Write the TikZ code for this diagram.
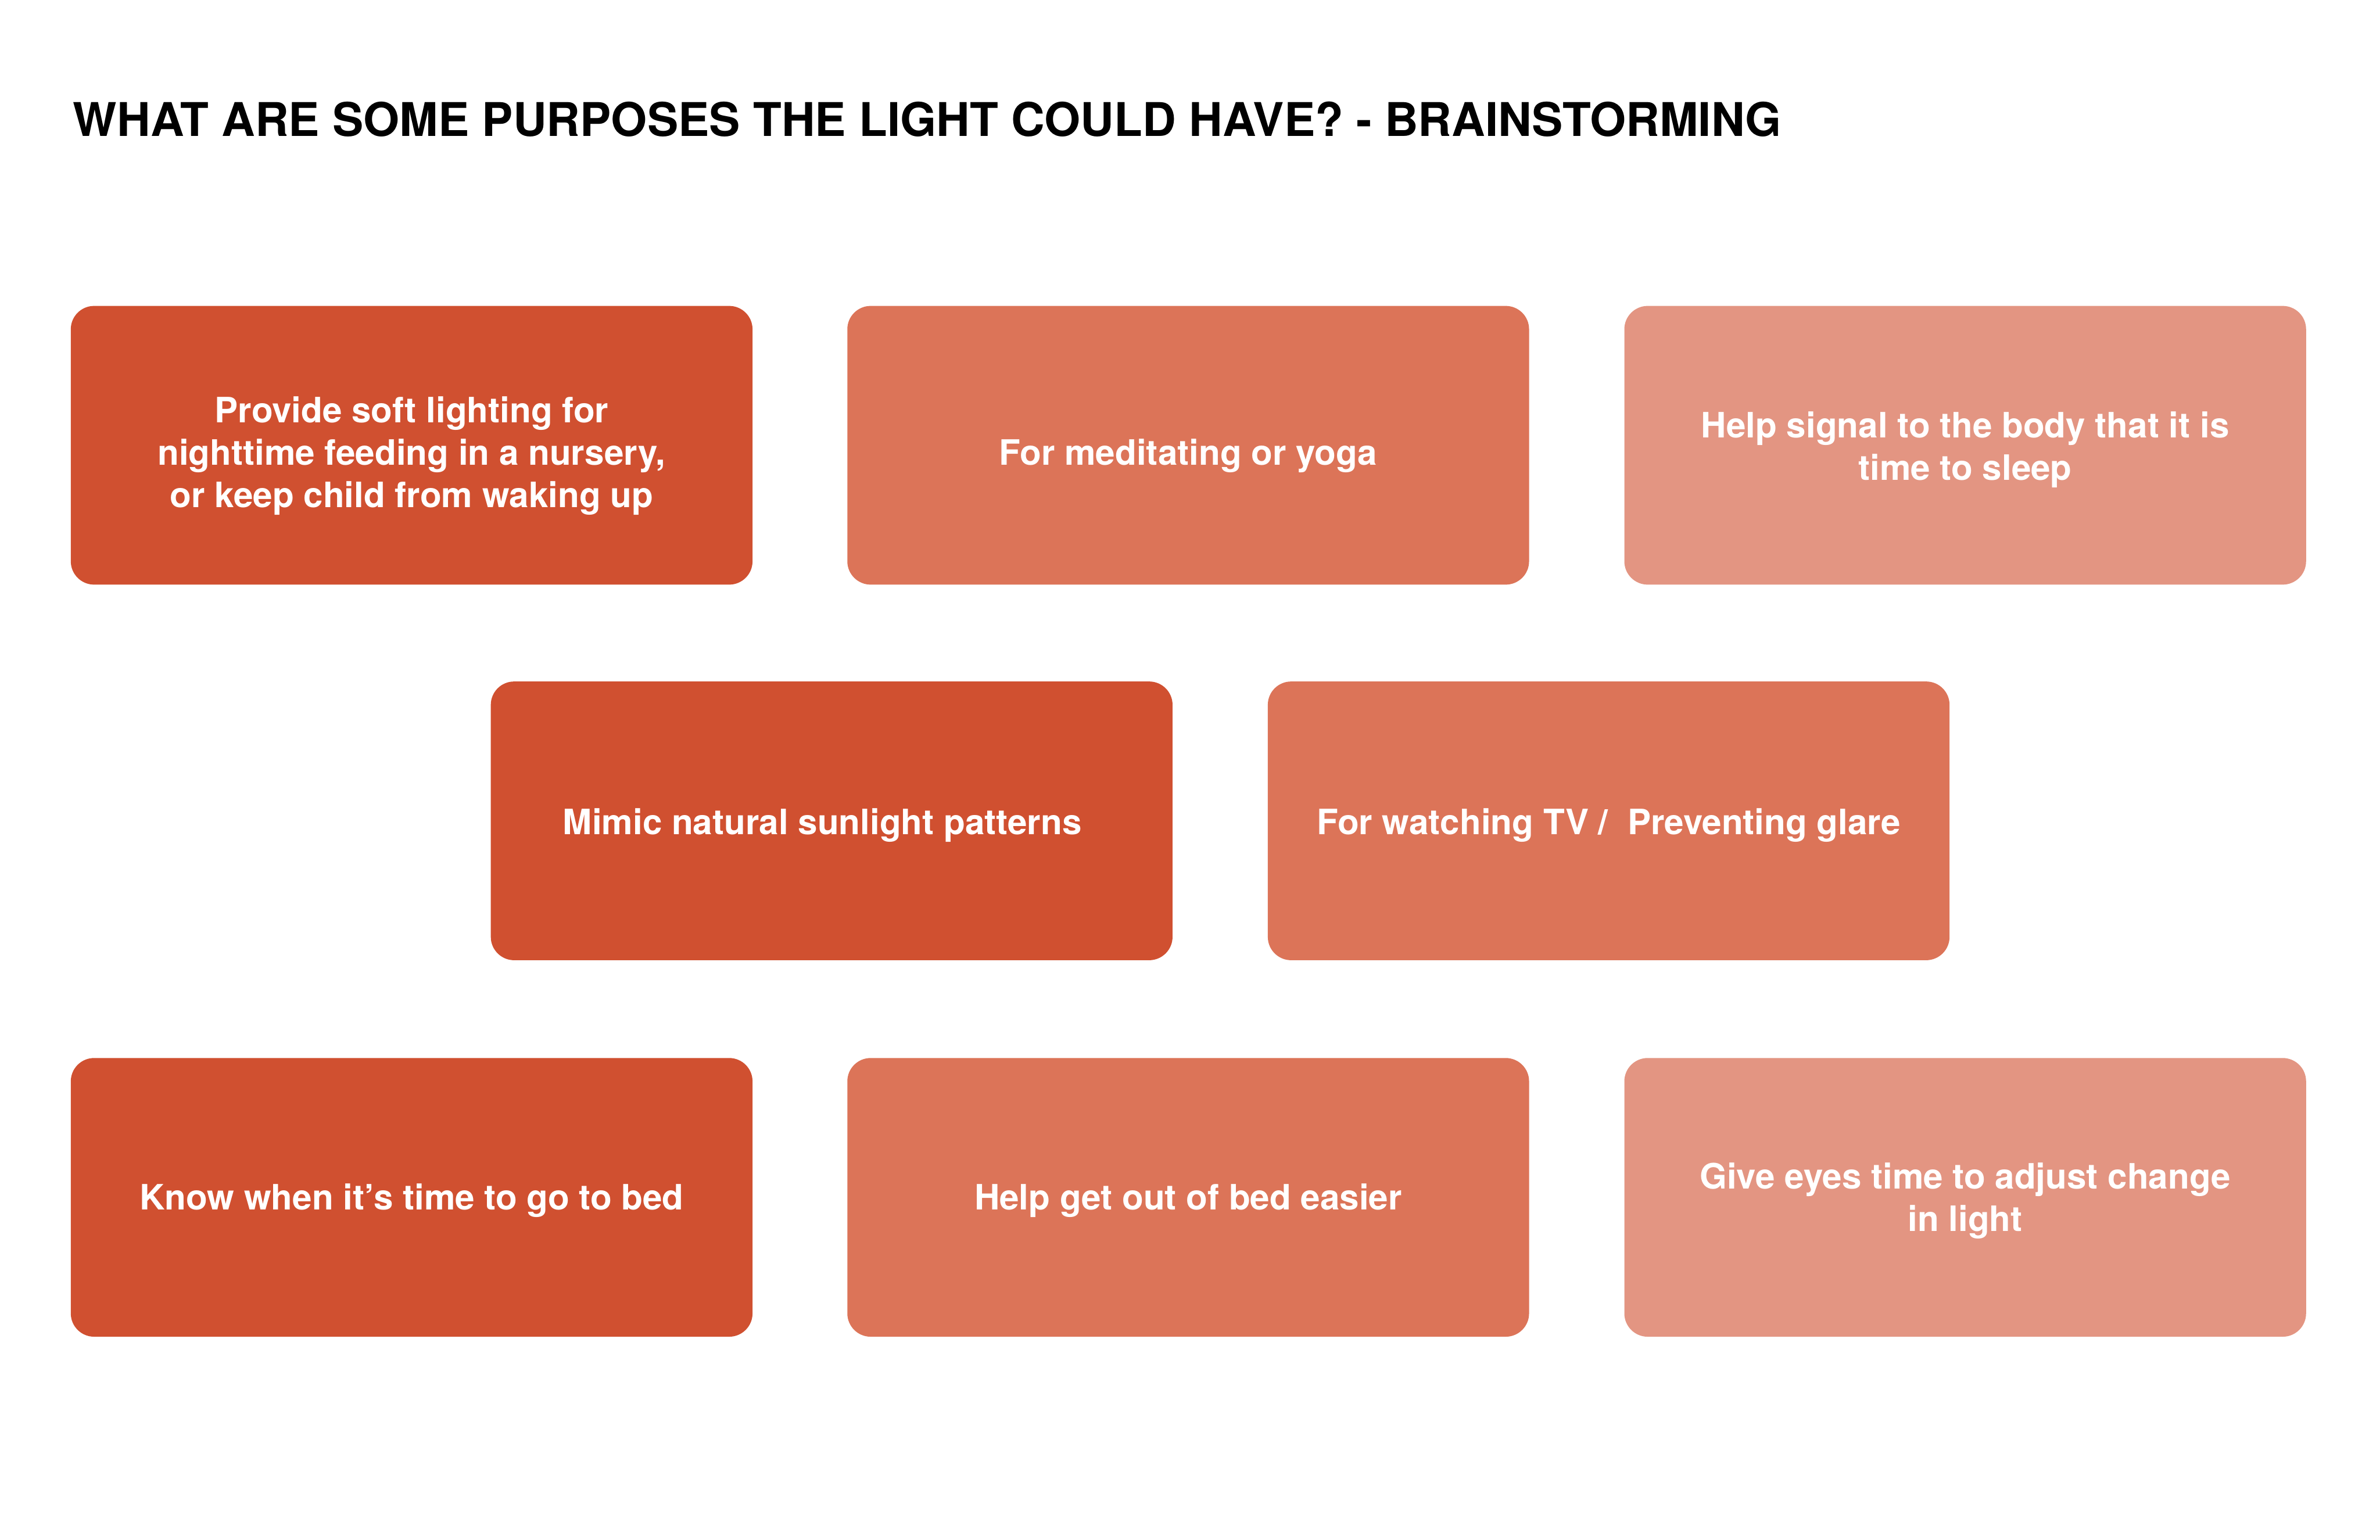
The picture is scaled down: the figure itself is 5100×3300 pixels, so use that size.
\documentclass[tikz,border=0pt]{standalone}
\usepackage{fontspec}
\setmainfont{TeX Gyre Heros}
\definecolor{cdark}{HTML}{D05030}
\definecolor{cmid}{HTML}{DC7458}
\definecolor{clight}{HTML}{E39582}
\begin{document}
\begin{tikzpicture}[x=0.01cm,y=-0.01cm,
  card/.style={rounded corners=0.5cm,minimum width=14.6cm,minimum height=5.97cm,
    anchor=north west,inner sep=0pt},
  cardtext/.style={inner sep=0pt,text=white,align=center,
    font=\fontsize{21.3}{25.8}\selectfont\bfseries}]
\useasboundingbox[fill=white] (0,0) rectangle (5100,3300);
\node[anchor=base west,inner sep=0pt,font=\fontsize{28.3}{34}\selectfont\bfseries] (title) at (156,292) {WHAT ARE SOME PURPOSES THE LIGHT COULD HAVE? - BRAINSTORMING};
\node[card,fill=cdark] (a1) at (151,655) {};
\node[card,fill=cmid] (a2) at (1815,655) {};
\node[card,fill=clight] (a3) at (3480,655) {};
\node[card,fill=cdark] (b1) at (1051,1460) {};
\node[card,fill=cmid] (b2) at (2716,1460) {};
\node[card,fill=cdark] (c1) at (151,2267) {};
\node[card,fill=cmid] (c2) at (1815,2267) {};
\node[card,fill=clight] (c3) at (3480,2267) {};
\node[cardtext,yshift=-0.23cm] (ta1) at (a1.center) {Provide soft lighting for\\nighttime feeding in a nursery,\\or keep child from waking up};
\node[cardtext,yshift=-0.23cm] (ta2) at (a2.center) {For meditating or yoga};
\node[cardtext,yshift=-0.10cm] (ta3) at (a3.center) {Help signal to the body that it is\\time to sleep};
\node[cardtext,yshift=-0.10cm,xshift=-0.2cm] (tb1) at (b1.center) {Mimic natural sunlight patterns};
\node[cardtext,yshift=-0.10cm] (tb2) at (b2.center) {For watching TV /\ \ Preventing glare};
\node[cardtext,yshift=-0.07cm] (tc1) at (c1.center) {Know when it’s time to go to bed};
\node[cardtext,yshift=-0.07cm] (tc2) at (c2.center) {Help get out of bed easier};
\node[cardtext,yshift=-0.07cm] (tc3) at (c3.center) {Give eyes time to adjust change\\in light};
\end{tikzpicture}
\end{document}
